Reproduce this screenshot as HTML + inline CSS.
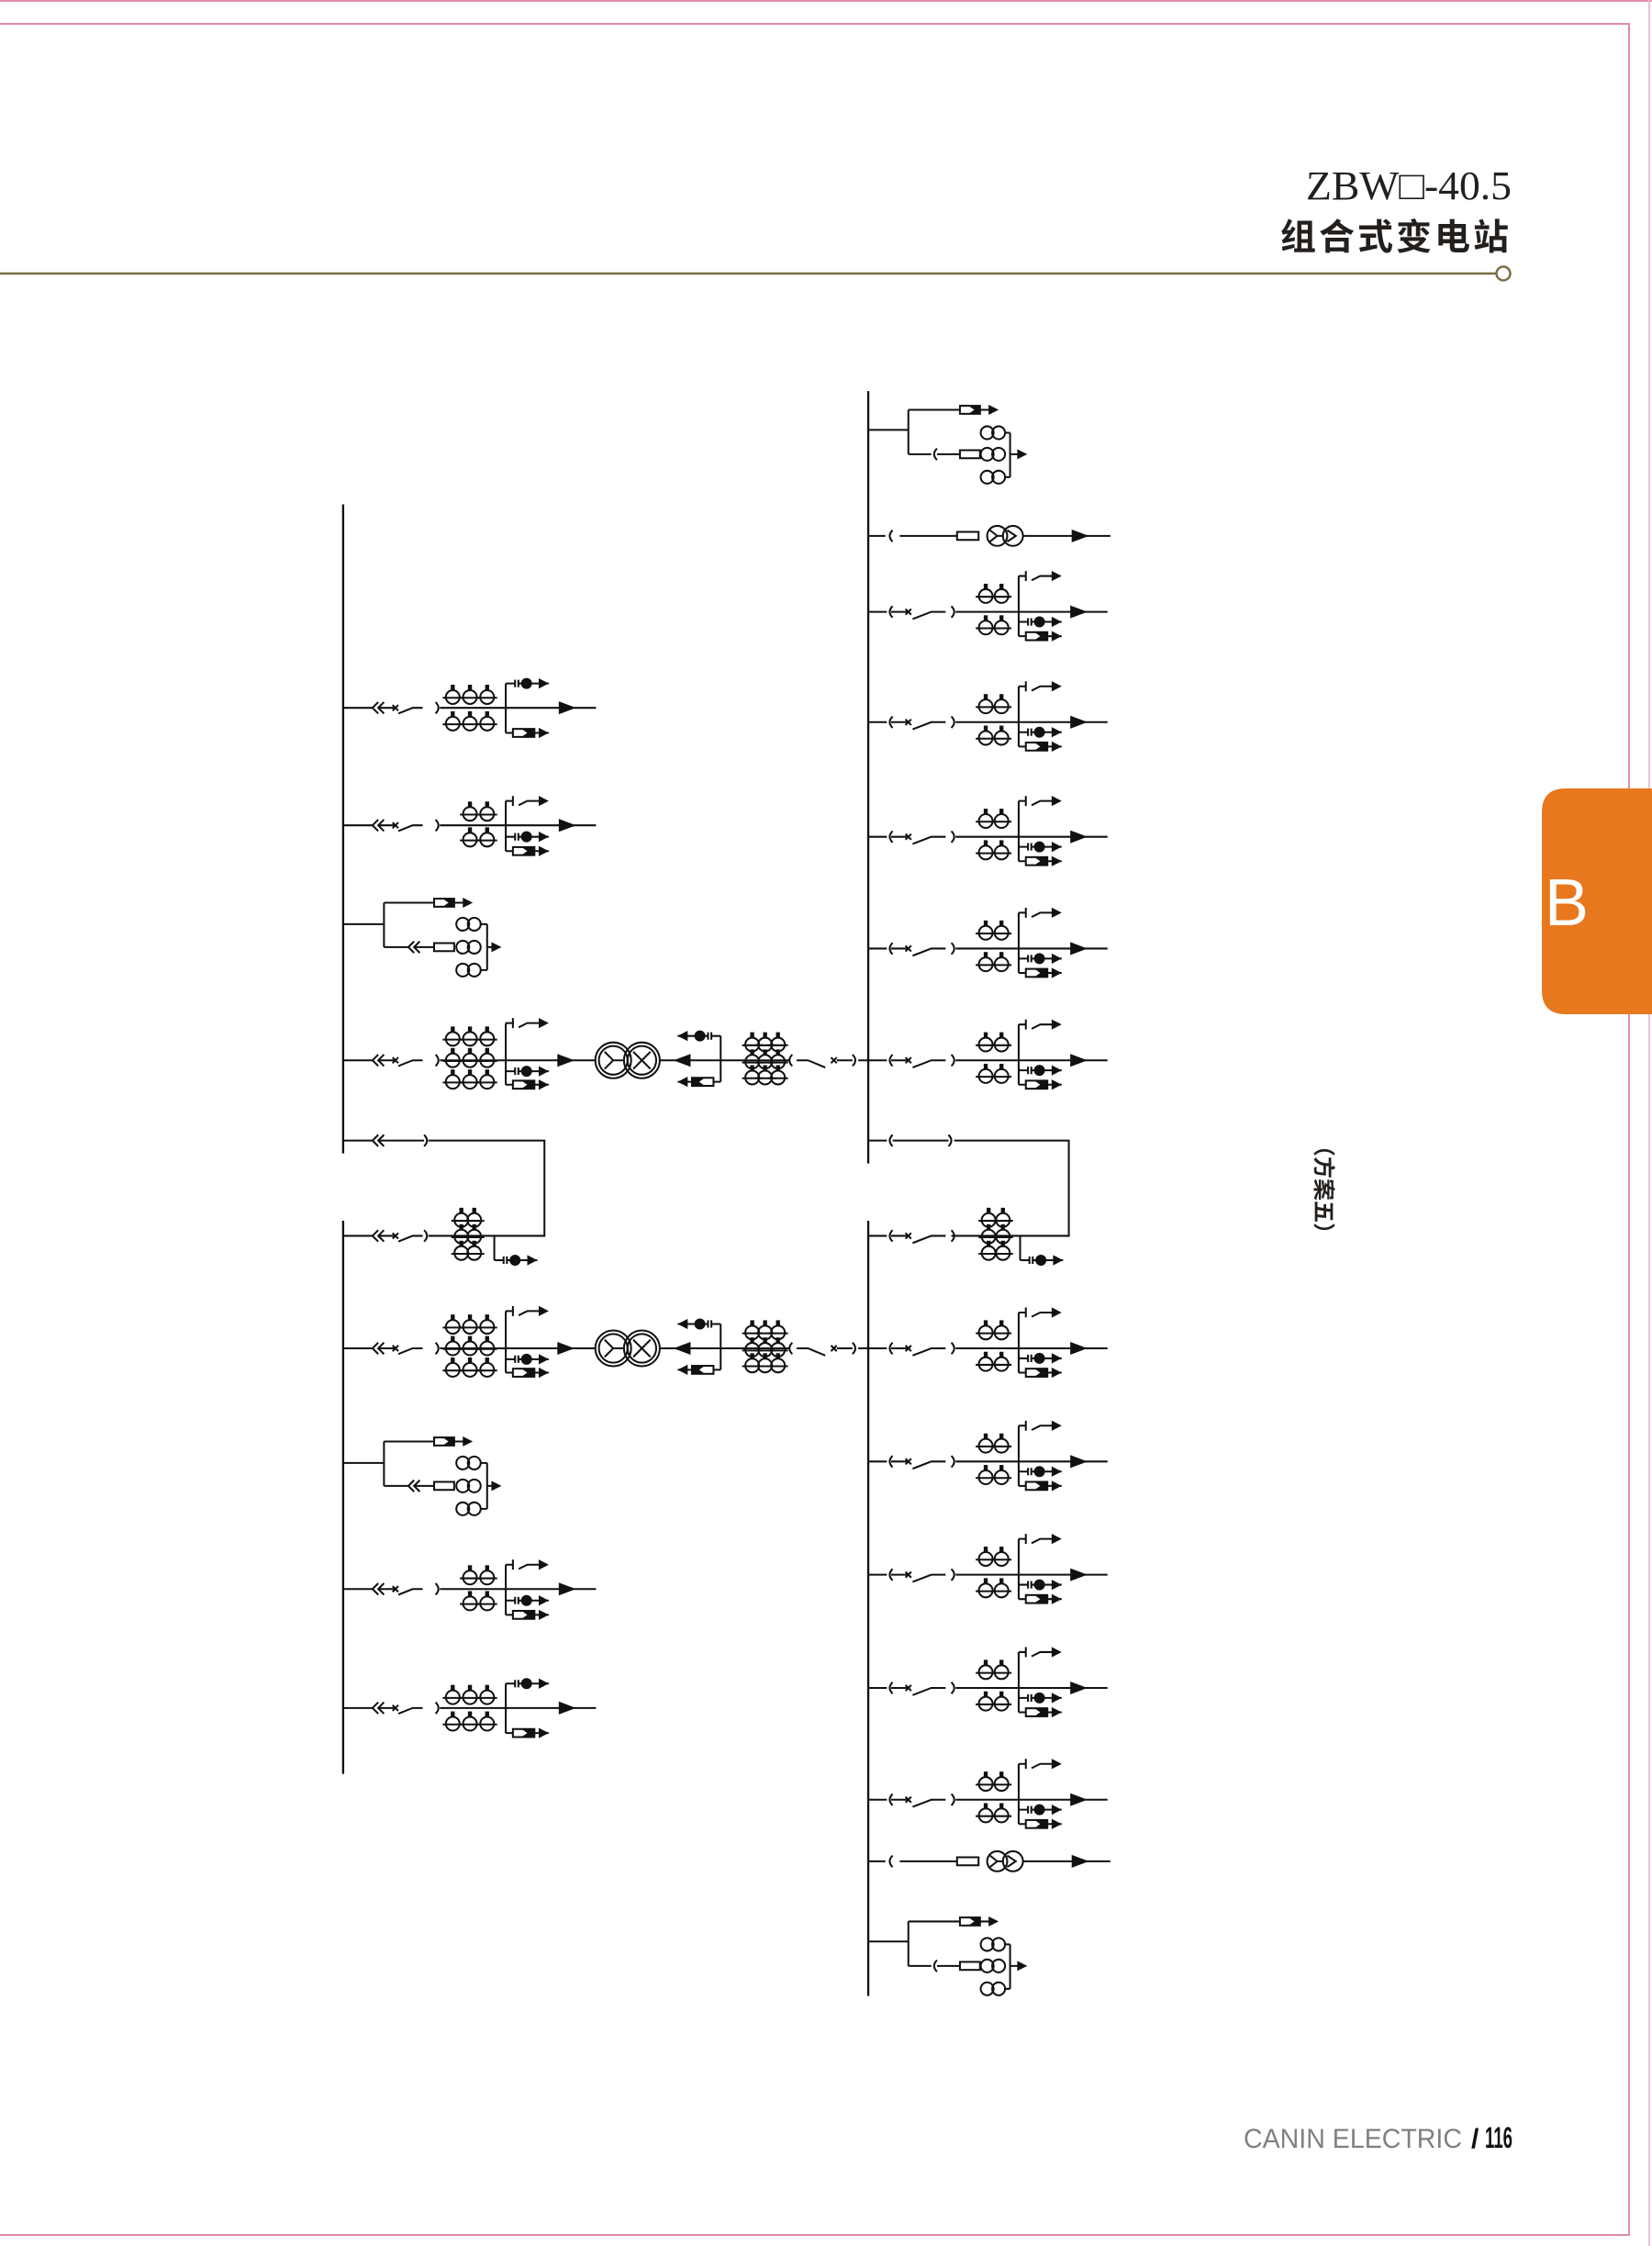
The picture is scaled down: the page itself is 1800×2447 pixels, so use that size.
<!DOCTYPE html>
<html><head><meta charset="utf-8"><style>
html,body{margin:0;padding:0;background:#fff;}
svg{display:block;}
</style></head><body>
<svg width="1800" height="2447" viewBox="0 0 1800 2447" xmlns="http://www.w3.org/2000/svg">
<g stroke="#e58ab0" stroke-width="2" fill="none">
<line x1="0" y1="1" x2="1800" y2="1"/>
<polyline points="0,26 1775,26 1775,2435 0,2435"/>
<line x1="1797" y1="0" x2="1797" y2="2447" stroke="#f0c0d4"/>
</g>
<text x="1423" y="217" textLength="224" lengthAdjust="spacingAndGlyphs" font-family="Liberation Serif, serif" font-size="44" fill="#231f1c">ZBW□-40.5</text>
<text x="1647" y="272" text-anchor="end" font-family="Liberation Sans, 'Noto Sans CJK SC', sans-serif" font-size="39" font-weight="bold" letter-spacing="3" fill="#231f1c">组合式变电站</text>
<line x1="0" y1="298" x2="1630" y2="298" stroke="#7d6d45" stroke-width="2.5"/>
<circle cx="1638" cy="298" r="7.5" fill="#fff" stroke="#7d6d45" stroke-width="2.5"/>
<path d="M1800,859 H1706 Q1680,859 1680,885 V1079 Q1680,1105 1706,1105 H1800 Z" fill="#e8781e"/>
<text x="1683" y="1008" font-family="Liberation Sans, sans-serif" font-size="72" fill="#fff">B</text>
<text transform="translate(1434,1296) rotate(90)" text-anchor="middle" font-family="Liberation Sans, 'Noto Sans CJK SC', sans-serif" font-size="24" font-weight="bold" fill="#231f1c">（方案五）</text>
<text x="1355" y="2340" textLength="238" lengthAdjust="spacingAndGlyphs" font-family="Liberation Sans, sans-serif" font-size="30" fill="#808080">CANIN ELECTRIC</text>
<text x="1603" y="2340" font-family="Liberation Sans, sans-serif" font-size="30" font-weight="bold" fill="#111">/</text>
<text x="1618" y="2340" textLength="30" lengthAdjust="spacingAndGlyphs" font-family="Liberation Sans, sans-serif" font-size="32" font-weight="bold" fill="#111">116</text>

<defs>
<g id="ct"><rect x="-1.4" y="-8.6" width="2.8" height="3.6" fill="#111" stroke="none"/><circle r="4.8"/><line x1="-7" x2="7" y1="0.5" y2="0.5"/></g>
<g id="mt"><path d="M0,0 H6.5 M9,0 H30 M6.5,-2.6 V2.6 M8.8,-2.6 V2.6"/><circle cx="14.5" r="3.2" fill="#111"/><polygon points="23,-3.6 30,0 23,3.6" fill="#111" stroke="none"/></g>
<g id="rb"><path d="M0,0 H30"/><rect x="5" y="-2.8" width="15" height="5.6" fill="#fff"/><polygon points="11,-2.8 20,-2.8 20,2.8 11,2.8 15,0" fill="#111" stroke="none"/><polygon points="23,-3.6 30,0 23,3.6" fill="#111" stroke="none"/></g>
<g id="sb"><path d="M0,0 H5 M5,-3.5 V3.5 M9,3 L15,0 H24"/><polygon points="23,-3.6 30,0 23,3.6" fill="#111" stroke="none"/></g>
<g id="LS"><path d="M0,0 H20 M24,-4 L20,0 L24,4 M28,-4 L24,0 L28,4 M24,0 H36 M34,-2 L38,2 M34,2 L38,-2 M38,4 L48,0 H55 M64,-4 Q68,0 64,4"/></g>
<g id="RS"><path d="M0,0 H13 M17,-4 Q13,0 17,4 M16,0 H28 M26,-2 L30,2 M26,2 L30,-2 M31,5 L44,0 H54 M58,-4 Q62,0 58,4"/></g>
<g id="RF"><use href="#RS"/><path d="M61,0 H167 M105,-25 V17"/><polygon points="141,-4.5 153,0 141,4.5" fill="#111" stroke="none"/>
<use href="#ct" x="82" y="-11"/><use href="#ct" x="93" y="-11"/><use href="#ct" x="82" y="11"/><use href="#ct" x="93" y="11"/>
<use href="#sb" x="105" y="-25"/><use href="#mt" x="105" y="7"/><use href="#rb" x="105" y="17"/></g>
<g id="LA"><use href="#LS"/><path d="M67,0 H176 M113,-17 V17.5"/><polygon points="150,-4.5 162,0 150,4.5" fill="#111" stroke="none"/>
<use href="#ct" x="76" y="-7.5"/><use href="#ct" x="88" y="-7.5"/><use href="#ct" x="100" y="-7.5"/><use href="#ct" x="76" y="11"/><use href="#ct" x="88" y="11"/><use href="#ct" x="100" y="11"/>
<use href="#mt" x="113" y="-17"/><use href="#rb" x="113" y="17.5"/></g>
<g id="LB"><use href="#LS"/><path d="M67,0 H176 M113,-17 V18"/><polygon points="150,-4.5 162,0 150,4.5" fill="#111" stroke="none"/>
<use href="#ct" x="88" y="-8"/><use href="#ct" x="100" y="-8"/><use href="#ct" x="88" y="10"/><use href="#ct" x="100" y="10"/>
<use href="#sb" x="113" y="-17"/><use href="#mt" x="113" y="8"/><use href="#rb" x="113" y="18"/></g>
<g id="MAIN"><use href="#LS"/><path d="M67,0 H176 M113,-26 V17"/><polygon points="149,-4.5 161,0 149,4.5" fill="#111" stroke="none"/>
<use href="#ct" x="76" y="-15"/><use href="#ct" x="88" y="-15"/><use href="#ct" x="100" y="-15"/><use href="#ct" x="76" y="0"/><use href="#ct" x="88" y="0"/><use href="#ct" x="100" y="0"/><use href="#ct" x="76" y="15"/><use href="#ct" x="88" y="15"/><use href="#ct" x="100" y="15"/>
<use href="#sb" x="113" y="-26"/><use href="#mt" x="113" y="7.6"/><use href="#rb" x="113" y="17"/>
<circle cx="188" r="12.5"/><circle cx="188" r="10"/><circle cx="208" r="12.5"/><circle cx="208" r="10"/>
<path d="M182,-6 L188,0 L182,6 M188,0 H195 M202,-6 L214,6 M202,6 L214,-6"/>
<path d="M220.5,0 H311 M263,-17 V15 M313,-4 Q309,0 313,4 M316,0 H324 L336,5 M340,-2 L344,2 M340,2 L344,-2 M344,0 H355 M355,-4 Q359,0 355,4 M359,0 H366"/>
<polygon points="242,-4.5 230,0 242,4.5" fill="#111" stroke="none"/>
<g transform="translate(263,-17) scale(-1,1)"><use href="#mt"/></g>
<g transform="translate(263,15) scale(-1,1)"><use href="#rb"/></g>
<use href="#ct" x="285" y="-11"/><use href="#ct" x="294" y="-11"/><use href="#ct" x="303" y="-11"/><use href="#ct" x="285" y="1"/><use href="#ct" x="294" y="1"/><use href="#ct" x="303" y="1"/><use href="#ct" x="285" y="12"/><use href="#ct" x="294" y="12"/><use href="#ct" x="303" y="12"/>
</g>
<g id="RPT"><path d="M0,0 H28 M28,-14 V17 M28,-14 H85 M28,17 H44 M48,13 Q44,17 48,21 M48,17 H64 M99,2 V33 M95,2 H99 M95,33 H99 M99,17 H105"/>
<rect x="64" y="-16.8" width="14" height="5.6" fill="#fff"/><polygon points="70,-16.8 78,-16.8 78,-11.2 70,-11.2 74,-14" fill="#111" stroke="none"/><polygon points="84,-17.5 91,-14 84,-10.5" fill="#111" stroke="none"/>
<rect x="64" y="14.2" width="14" height="5.6" fill="#fff"/>
<circle cx="83" cy="2" r="4.5"/><circle cx="91" cy="2" r="4.5"/><circle cx="83" cy="17" r="4.5"/><circle cx="91" cy="17" r="4.5"/><circle cx="83" cy="33" r="4.5"/><circle cx="91" cy="33" r="4.5"/>
<polygon points="104,-3.5 111,0 104,3.5" transform="translate(0,17)" fill="#111" stroke="none"/></g>
<g id="LPT"><path d="M0,0 H28 M28,-15 V16 M28,-15 H88 M28,16 H45 M49,12 L45,16 L49,20 M53,12 L49,16 L53,20 M49,16 H63 M100,0 V32 M96,0 H100 M96,32 H100 M100,16 H104"/>
<rect x="63" y="-17.8" width="14" height="5.6" fill="#fff"/><polygon points="69,-17.8 77,-17.8 77,-12.2 69,-12.2 73,-15" fill="#111" stroke="none"/><polygon points="83,-18.5 90,-15 83,-11.5" fill="#111" stroke="none"/>
<rect x="63" y="13.2" width="14" height="5.6" fill="#fff"/>
<circle cx="83" cy="0" r="4.5"/><circle cx="91" cy="0" r="4.5"/><circle cx="83" cy="16" r="4.5"/><circle cx="91" cy="16" r="4.5"/><circle cx="83" cy="32" r="4.5"/><circle cx="91" cy="32" r="4.5"/>
<polygon points="103,12.5 110,16 103,19.5" fill="#111" stroke="none"/></g>
<g id="PTT"><path d="M0,0 H12 M17,-4 Q13,0 17,4 M22,0 H62 M108,0 H169"/>
<rect x="62" y="-2.8" width="15" height="5.6" fill="#fff"/>
<circle cx="90" r="7"/><circle cx="101" r="7"/>
<path d="M85,-4 L90,0 L85,4 M90,0 H94 M97,-4 L103,0 L97,4"/>
<polygon points="142,-4.5 154,0 142,4.5" fill="#111" stroke="none"/></g>
</defs>

<g transform="scale(1.5611)" stroke="#111" stroke-width="1.3" fill="none">
<path d="M239.5,352 V805 M239.5,852 V1238 M606,273 V812 M606,852 V1393" stroke-width="1.5"/>
<use href="#LA" x="240" y="494"/>
<use href="#LB" x="240" y="576"/>
<use href="#LPT" x="240" y="645"/>
<use href="#MAIN" x="240" y="740"/>
<use href="#MAIN" x="240" y="941"/>
<use href="#LPT" x="240" y="1021"/>
<use href="#LB" x="240" y="1109"/>
<use href="#LA" x="240" y="1192"/>
<path d="M240,796 H260 M264,792 L260,796 L264,800 M268,792 L264,796 L268,800 M264,796 H296 M296,792 Q300,796 296,800 M299,796 H380 V862.5 H299"/>
<g transform="translate(240,862.5)"><path d="M0,0 H20 M24,-4 L20,0 L24,4 M28,-4 L24,0 L28,4 M24,0 H36 M34,-2 L38,2 M34,2 L38,-2 M38,4 L48,0 H55 M56,-4 Q60,0 56,4"/>
<use href="#ct" x="82" y="-11"/><use href="#ct" x="91" y="-11"/><use href="#ct" x="82" y="0.5"/><use href="#ct" x="91" y="0.5"/><use href="#ct" x="82" y="12"/><use href="#ct" x="91" y="12"/>
<path d="M105,0 V17"/><use href="#mt" x="105" y="17"/></g>
<use href="#RPT" x="606" y="300"/>
<use href="#PTT" x="606" y="374"/>
<use href="#RF" x="606" y="427"/>
<use href="#RF" x="606" y="504"/>
<use href="#RF" x="606" y="584"/>
<use href="#RF" x="606" y="662"/>
<use href="#RF" x="606" y="740"/>
<use href="#RF" x="606" y="941"/>
<use href="#RF" x="606" y="1020"/>
<use href="#RF" x="606" y="1099"/>
<use href="#RF" x="606" y="1178"/>
<use href="#RF" x="606" y="1256"/>
<use href="#PTT" x="606" y="1299"/>
<use href="#RPT" x="606" y="1355"/>
<path d="M606,796 H619 M623,792 Q619,796 623,800 M623,796 H662 M662,792 Q666,796 662,800 M666,796 H746 V862.5 H664"/>
<g transform="translate(606,862.5)"><use href="#RS"/>
<use href="#ct" x="84" y="-11"/><use href="#ct" x="94" y="-11"/><use href="#ct" x="84" y="0.5"/><use href="#ct" x="94" y="0.5"/><use href="#ct" x="84" y="12"/><use href="#ct" x="94" y="12"/>
<path d="M106,0 V17"/><use href="#mt" x="106" y="17"/></g>
</g>
</svg>
</body></html>
